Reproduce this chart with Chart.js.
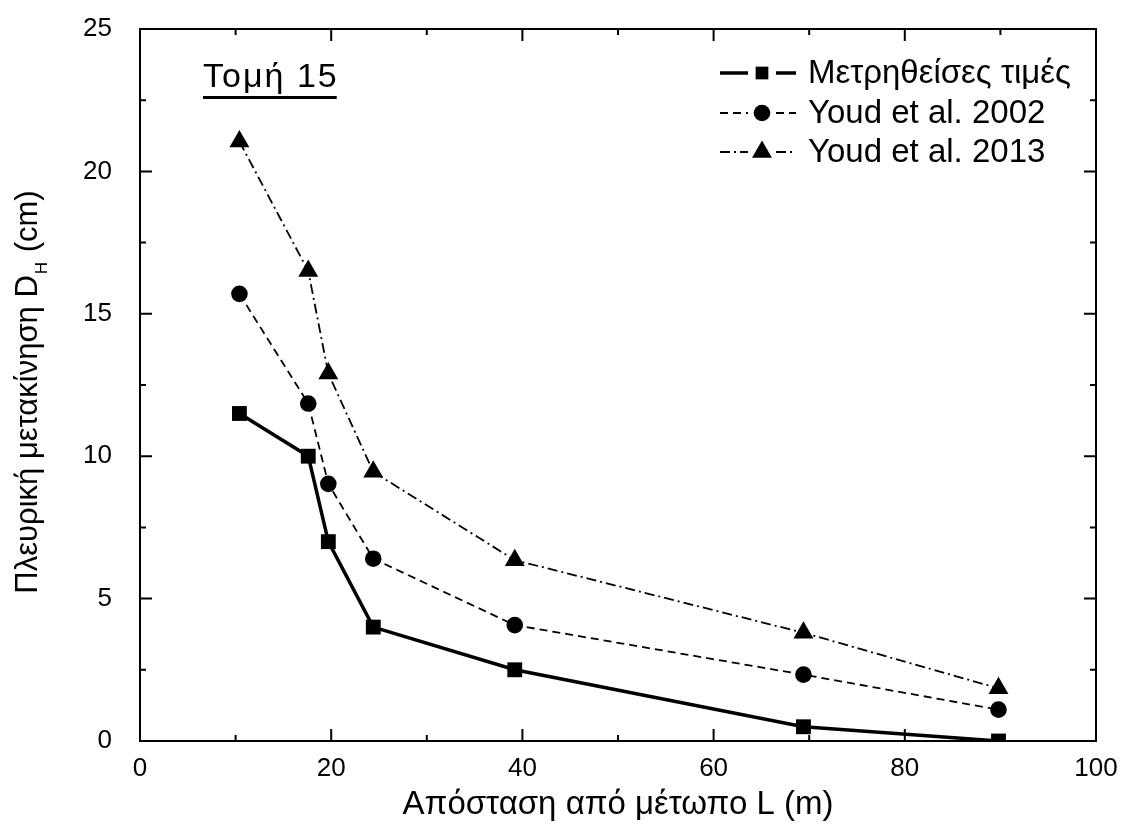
<!DOCTYPE html>
<html>
<head>
<meta charset="utf-8">
<script src="https://cdn.jsdelivr.net/npm/chart.js@4/dist/chart.umd.min.js"></script>
<style>
  html, body { margin: 0; padding: 0; background: #fff; }
  #wrap { width: 1121px; height: 839px; }
</style>
</head>
<body>
<div id="wrap"><canvas id="chart"></canvas></div>
<script>
// Απόσταση από μέτωπο L (m)
const apostasi = [10.4, 17.6, 19.7, 24.4, 39.2, 69.4, 89.8];
// Πλευρική μετακίνηση (cm)
const metrimenes = [11.5, 10.0, 7.0, 4.0, 2.5, 0.5, 0.0];
const youd2002 = [15.7, 11.85, 9.03, 6.4, 4.07, 2.33, 1.1];
const youd2013 = [21.05, 16.5, 12.9, 9.45, 6.35, 3.8, 1.85];

const seriesNames = ['Μετρηθείσες τιμές', 'Youd et al. 2002', 'Youd et al. 2013'];
const xTicks = [0, 20, 40, 60, 80, 100];
const yTicks = [0, 5, 10, 15, 20, 25];

const FONT = '"Liberation Sans", Arial, sans-serif';

function toPoints(ys) {
    return apostasi.map((x, i) => ({ x: x, y: ys[i] }));
}

const styles = [
    { dash: [], width: 3.5, pointStyle: 'rect', radius: 10.5 },
    { dash: [8, 5], width: 1.8, pointStyle: 'circle', radius: 8.3 },
    { dash: [10, 4, 2, 4], width: 1.8, pointStyle: 'triangle', radius: 11.5 }
];

const datasets = [metrimenes, youd2002, youd2013].map((vals, i) => ({
    label: seriesNames[i],
    data: toPoints(vals),
    borderColor: '#000',
    backgroundColor: '#000',
    borderWidth: styles[i].width,
    borderDash: styles[i].dash,
    pointStyle: styles[i].pointStyle,
    pointRadius: styles[i].radius,
    pointBackgroundColor: '#000',
    pointBorderColor: '#000',
    pointBorderWidth: 0,
    tension: 0,
    clip: { left: 15, top: 15, right: 15, bottom: 0 }
}));

// πλαίσιο και εσωτερικές υποδιαιρέσεις
const framePlugin = {
    id: 'frame',
    afterDraw(chart) {
        const { ctx, chartArea: a, scales: { x, y } } = chart;
        ctx.save();
        ctx.strokeStyle = '#000';
        ctx.lineWidth = 2;
        ctx.strokeRect(a.left, a.top, a.right - a.left, a.bottom - a.top);
        ctx.beginPath();
        for (let v = 0; v <= 100; v += 10) {
            const px = x.getPixelForValue(v);
            const len = v % 20 === 0 ? 12 : 6;
            ctx.moveTo(px, a.bottom); ctx.lineTo(px, a.bottom - len);
            ctx.moveTo(px, a.top); ctx.lineTo(px, a.top + len);
        }
        for (let v = 0; v <= 25; v += 2.5) {
            const py = y.getPixelForValue(v);
            const len = v % 5 === 0 ? 12 : 6;
            ctx.moveTo(a.left, py); ctx.lineTo(a.left + len, py);
            ctx.moveTo(a.right, py); ctx.lineTo(a.right - len, py);
        }
        ctx.stroke();

        // τίτλος άξονα y με δείκτη
        ctx.fillStyle = '#000';
        ctx.translate(0, 393);
        ctx.rotate(-Math.PI / 2);
        ctx.textBaseline = 'alphabetic';
        const main = 'Πλευρική μετακίνηση D';
        const tail = ' (cm)';
        ctx.font = '31px ' + FONT;
        const w1 = ctx.measureText(main).width;
        const w3 = ctx.measureText(tail).width;
        ctx.font = '17px ' + FONT;
        const w2 = ctx.measureText('H').width;
        let lx = -(w1 + w2 + w3) / 2;
        ctx.font = '31px ' + FONT;
        ctx.fillText(main, lx, 37);
        ctx.font = '17px ' + FONT;
        ctx.fillText('H', lx + w1 + 1, 47);
        ctx.font = '31px ' + FONT;
        ctx.fillText(tail, lx + w1 + w2 + 2, 37);
        ctx.restore();

        // Τομή 15
        ctx.save();
        ctx.fillStyle = '#000';
        ctx.font = '34px ' + FONT;
        ctx.letterSpacing = '2px';
        ctx.textBaseline = 'alphabetic';
        const t = 'Τομή 15';
        const tw = ctx.measureText(t).width - 2;
        ctx.fillText(t, 203, 87);
        ctx.fillRect(203, 96, tw, 3);
        ctx.restore();

        // υπόμνημα
        ctx.save();
        const rows = [73, 113, 152];
        datasets.forEach((ds, i) => {
            const yy = rows[i];
            ctx.strokeStyle = '#000';
            ctx.lineWidth = ds.borderWidth;
            ctx.setLineDash(ds.borderDash);
            ctx.beginPath();
            ctx.moveTo(720, yy); ctx.lineTo(748, yy);
            ctx.moveTo(776, yy); ctx.lineTo(796, yy);
            ctx.stroke();
            ctx.setLineDash([]);
            ctx.fillStyle = '#000';
            Chart.helpers.drawPoint(ctx, {
                pointStyle: ds.pointStyle,
                radius: ds.pointStyle === 'rect' ? 9 : ds.pointRadius,
                borderWidth: 0
            }, 762, yy);
            ctx.font = '33px ' + FONT;
            ctx.textBaseline = 'middle';
            ctx.fillText(ds.label, 808, yy + 1);
        });
        ctx.restore();
    }
};

new Chart(document.getElementById('chart').getContext('2d'), {
    type: 'line',
    data: { datasets: datasets },
    options: {
        responsive: true,
        maintainAspectRatio: false,
        animation: false,
        layout: { padding: { top: 29, right: 25, left: 0, bottom: 0 } },
        plugins: { legend: { display: false }, tooltip: { enabled: false } },
        scales: {
            x: {
                type: 'linear',
                min: 0,
                max: 100,
                afterFit(scale) {
                    scale.height = 98;
                    scale.paddingLeft = 0;
                    scale.paddingRight = 0;
                },
                afterBuildTicks(scale) { scale.ticks = xTicks.map(v => ({ value: v })); },
                ticks: { color: '#000', font: { family: FONT, size: 26 }, padding: 12, maxRotation: 0 },
                grid: { display: false, drawTicks: false },
                border: { display: false },
                title: {
                    display: true,
                    text: 'Απόσταση από μέτωπο L (m)',
                    color: '#000',
                    font: { family: FONT, size: 33 },
                    padding: { top: 0, bottom: 14 }
                }
            },
            y: {
                type: 'linear',
                min: 0,
                max: 25,
                afterFit(scale) {
                    scale.width = 140;
                    scale.paddingTop = 0;
                    scale.paddingBottom = 0;
                },
                afterBuildTicks(scale) { scale.ticks = yTicks.map(v => ({ value: v })); },
                ticks: { color: '#000', font: { family: FONT, size: 26 }, padding: 28 },
                grid: { display: false, drawTicks: false },
                border: { display: false }
            }
        }
    },
    plugins: [framePlugin]
});
</script>
</body>
</html>
